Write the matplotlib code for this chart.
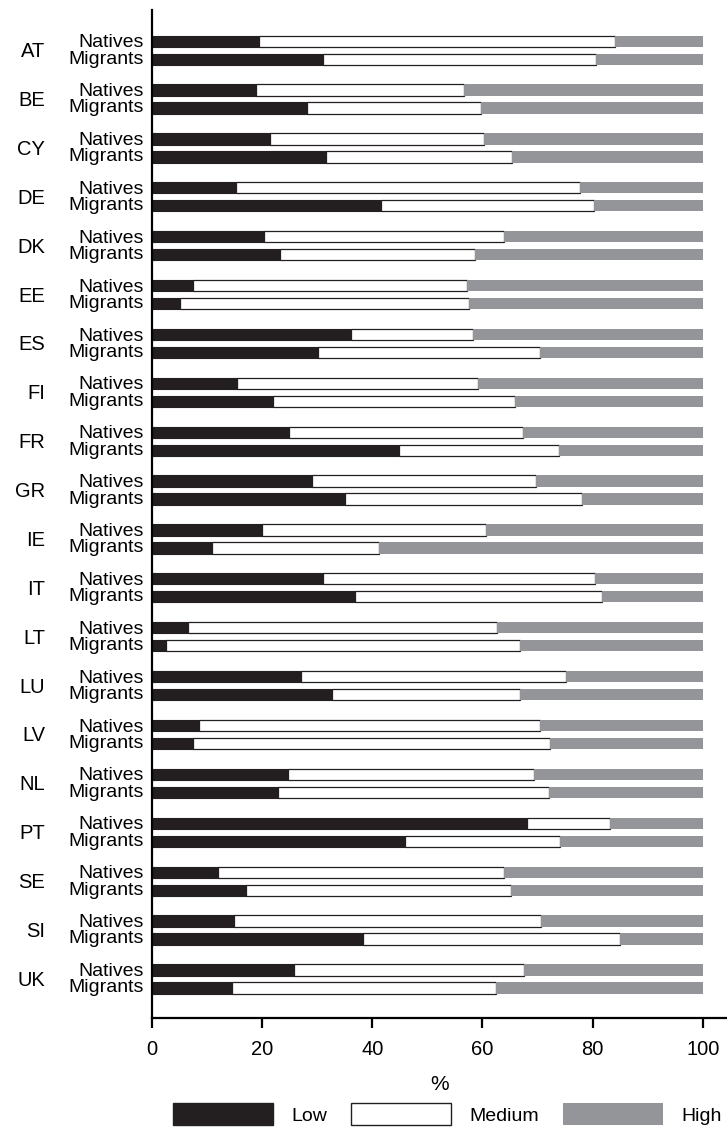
import numpy as np
import matplotlib.pyplot as plt

plt.rcParams['font.family'] = ['Liberation Sans', 'DejaVu Sans']

countries = ['AT', 'BE', 'CY', 'DE', 'DK', 'EE', 'ES', 'FI', 'FR', 'GR',
             'IE', 'IT', 'LT', 'LU', 'LV', 'NL', 'PT', 'SE', 'SI', 'UK']

# % with low / medium level, high is the rest up to 100
nat_low = [19.5, 18.9, 21.4, 15.2, 20.3, 7.4, 36.1, 15.5, 24.8, 29.0,
           19.9, 31.1, 6.5, 27.1, 8.5, 24.7, 68.1, 12.0, 14.9, 25.8]
nat_med = [64.5, 37.7, 38.8, 62.5, 43.7, 49.8, 22.2, 43.7, 42.6, 40.8,
           40.8, 49.3, 56.2, 48.1, 61.9, 44.6, 15.0, 51.9, 55.7, 41.7]
mig_low = [31.1, 28.1, 31.6, 41.6, 23.2, 5.1, 30.1, 22.0, 44.9, 35.0,
           10.9, 36.9, 2.5, 32.6, 7.4, 22.8, 46.0, 17.0, 38.3, 14.6]
mig_med = [49.6, 31.6, 33.7, 38.6, 35.4, 52.5, 40.3, 44.0, 29.0, 43.0,
           30.3, 44.8, 64.3, 34.2, 64.8, 49.3, 28.1, 48.1, 46.6, 47.8]

nat_low = np.array(nat_low)
nat_med = np.array(nat_med)
mig_low = np.array(mig_low)
mig_med = np.array(mig_med)
nat_high = 100 - nat_low - nat_med
mig_high = 100 - mig_low - mig_med

c_low = '#231f20'
c_high = '#939598'

fig = plt.figure(figsize=(7.27, 11.32), dpi=100)
ax = fig.add_axes([0.209, 0.1007, 0.791, 0.8904])

y = np.arange(len(countries))
off = 0.184
h = 0.23

for yy, lo, me, hi in [(y - off, nat_low, nat_med, nat_high),
                       (y + off, mig_low, mig_med, mig_high)]:
    ax.barh(yy, lo, height=h, color=c_low, edgecolor=c_low, linewidth=0.8)
    ax.barh(yy, me, left=lo, height=h, color='white', edgecolor=c_low, linewidth=0.9)
    ax.barh(yy, hi, left=lo + me, height=h, color=c_high, edgecolor='none')

ax.set_xlim(0, 104.4)
ax.set_ylim(19.8, -0.82)
ax.set_yticks([])
ax.set_xticks([0, 20, 40, 60, 80, 100])
ax.tick_params(axis='x', labelsize=14.5, length=7.5, width=1.6, pad=8)
for s in ['top', 'right']:
    ax.spines[s].set_visible(False)
for s in ['left', 'bottom']:
    ax.spines[s].set_linewidth(1.6)

for i, c in enumerate(countries):
    ax.annotate(c, (0, i), xytext=(-77, -5), textcoords='offset points',
                ha='right', va='baseline', fontsize=14.5, annotation_clip=False)
    ax.annotate('Natives', (0, i - off), xytext=(-5.8, -4.4), textcoords='offset points',
                ha='right', va='baseline', fontsize=14, annotation_clip=False)
    ax.annotate('Migrants', (0, i + off), xytext=(-5.8, -3.2), textcoords='offset points',
                ha='right', va='baseline', fontsize=14, annotation_clip=False)

ax.set_xlabel('%', fontsize=15, labelpad=12)

handles = [plt.Rectangle((0, 0), 1, 1, facecolor=c_low, edgecolor=c_low),
           plt.Rectangle((0, 0), 1, 1, facecolor='white', edgecolor=c_low),
           plt.Rectangle((0, 0), 1, 1, facecolor=c_high, edgecolor='none')]
fig.legend(handles, ['Low', 'Medium', 'High'], loc='upper left',
           bbox_to_anchor=(173 / 727, 1 - 1103 / 1132), ncol=3, frameon=False,
           fontsize=14, borderpad=0, borderaxespad=0,
           handlelength=5.14, handleheight=1.4, handletextpad=0.93, columnspacing=1.25)

fig.savefig('out.png', dpi=100)
